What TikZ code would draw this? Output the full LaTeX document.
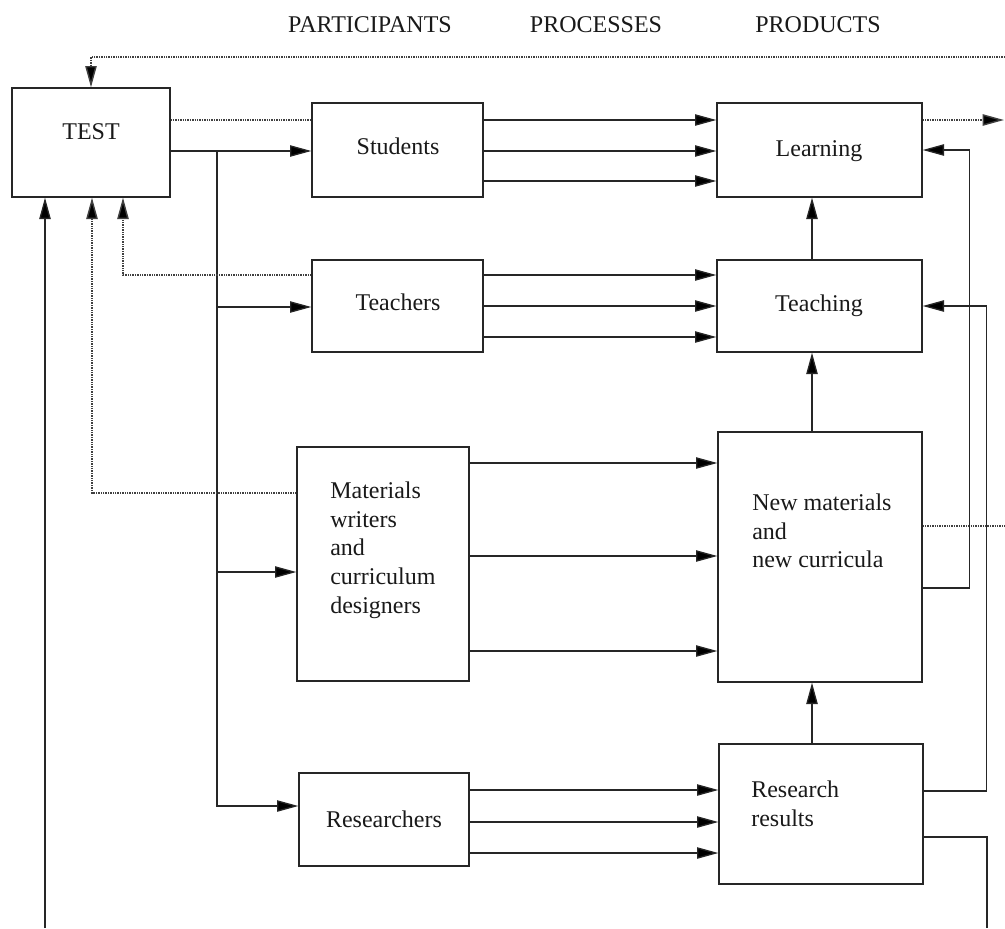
\documentclass[tikz,border=0pt]{standalone}
\usepackage{fontspec}
\setmainfont{Liberation Serif}
\usetikzlibrary{arrows.meta,fit}
\begin{document}
\begin{tikzpicture}[x=0.75pt,y=-0.75pt,
  box/.style={draw=black!85, line width=1pt, inner sep=0pt},
  conn/.style={draw=black!85, line width=1pt},
  arr/.style={conn,-{Triangle[length=16pt,width=8.5pt,fill=black]}},
  dotl/.style={draw=black!75, line width=1.1pt, dash pattern=on 1pt off 0.8pt},
  darr/.style={dotl,-{Triangle[length=16pt,width=8.5pt,fill=black]}},
  lbl/.style={inner sep=0pt, text=black!90, font=\fontsize{18}{21.4}\selectfont}]
\useasboundingbox (0,0) rectangle (1005,928);

% boxes
\node[box, fit={(12,88)(170,197)}] (test) {};
\node[box, fit={(312,103)(483,197)}] (stud) {};
\node[box, fit={(312,260)(483,352)}] (teach) {};
\node[box, fit={(297,447)(469,681)}] (mat) {};
\node[box, fit={(299,773)(469,866)}] (res) {};
\node[box, fit={(717,103)(922,197)}] (learn) {};
\node[box, fit={(717,260)(922,352)}] (teaching) {};
\node[box, fit={(718,432)(922,682)}] (nm) {};
\node[box, fit={(719,744)(923,884)}] (rr) {};

% texts
\node[lbl, anchor=base] (hpart) at (370,32) {PARTICIPANTS};
\node[lbl, anchor=base] (hproc) at (596,32) {PROCESSES};
\node[lbl, anchor=base] (hprod) at (818,32) {PRODUCTS};
\node[lbl, anchor=base] (testt) at (91,139) {TEST};
\node[lbl, anchor=base] (studt) at (398,154) {Students};
\node[lbl, anchor=base] (teacht) at (398,310) {Teachers};
\node[lbl, anchor=base] (learnt) at (819,156) {Learning};
\node[lbl, anchor=base] (teachingt) at (819,311) {Teaching};
\node[lbl, anchor=base] (rest) at (384,827) {Researchers};
\node[lbl, anchor=north west, align=left] (matt) at (330,482) {Materials\\writers\\and\\curriculum\\designers};
\node[lbl, anchor=north west, align=left] (nmt) at (752,494) {New materials\\and\\new curricula};
\node[lbl, anchor=north west, align=left] (rrt) at (751,781) {Research\\results};

% free ends
\coordinate (topR) at (1005,57);
\coordinate (outR) at (1004,120);
\coordinate (nmR) at (1005,526);
\coordinate (botL) at (45,928);
\coordinate (botR) at (987,928);
\coordinate (br) at (217,151);

% connectors
\draw[darr] (topR) -| (test.north);
\draw[dotl] (test.east |- 0,120) -- (stud.west |- 0,120);
\draw[arr] (test.east |- br) -- (stud.west |- br);
\draw[arr] (br) |- (teach.west |- 0,307);
\draw[arr] (br) |- (mat.west |- 0,572);
\draw[arr] (br) |- (res.west |- 0,806);

\foreach \yy in {120,151,181} \draw[arr] (stud.east |- 0,\yy) -- (learn.west |- 0,\yy);
\draw[darr] (learn.east |- 0,120) -- (outR);

\draw[darr] (teach.west |- 0,275) -| (test.south -| 123,0);
\foreach \yy in {275,306,337} \draw[arr] (teach.east |- 0,\yy) -- (teaching.west |- 0,\yy);
\draw[arr] (teaching.north -| 812,0) -- (learn.south -| 812,0);

\draw[darr] (mat.west |- 0,493) -| (test.south -| 92,0);
\foreach \yy in {463,556,651} \draw[arr] (mat.east |- 0,\yy) -- (nm.west |- 0,\yy);
\draw[arr] (nm.north -| 812,0) -- (teaching.south -| 812,0);
\draw[dotl] (nm.east |- 0,526) -- (nmR);
\draw[arr] (nm.east |- 0,588) -- ++(47,0) |- (learn.east |- 0,150);

\foreach \yy in {790,822,853} \draw[arr] (res.east |- 0,\yy) -- (rr.west |- 0,\yy);
\draw[arr] (rr.north -| 812,0) -- (nm.south -| 812,0);
\draw[arr] (rr.east |- 0,791) -- ++(63,0) |- (teaching.east |- 0,306);
\draw[conn] (rr.east |- 0,837) -| (botR);
\draw[arr] (botL) -- (test.south -| botL);
\end{tikzpicture}
\end{document}
